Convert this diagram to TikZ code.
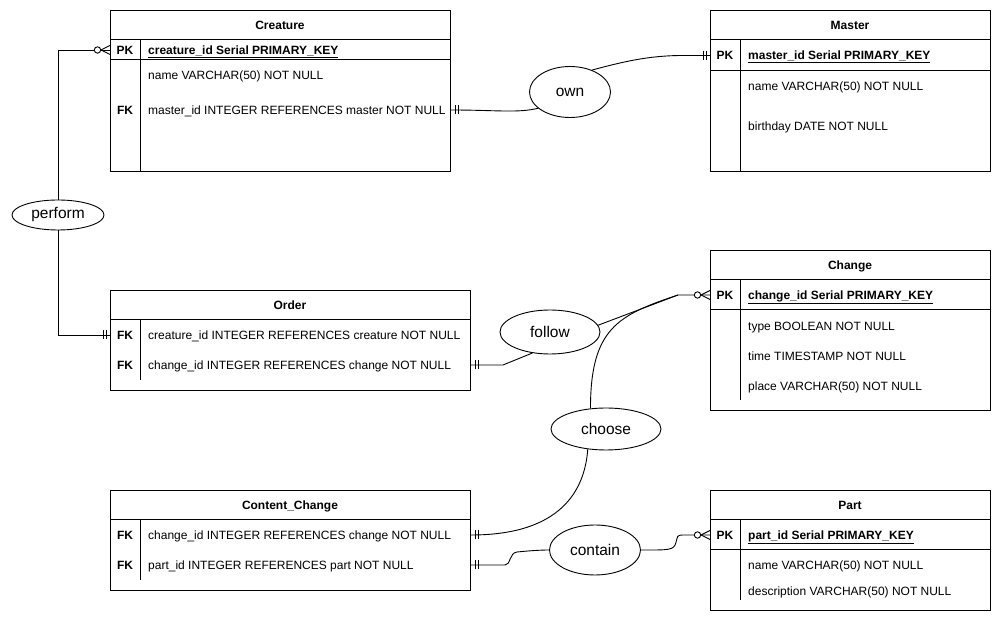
\documentclass[tikz,border=0pt]{standalone}
\usepackage{fontspec}
\setmainfont{Liberation Sans}
\usetikzlibrary{shapes.geometric, calc}

\begin{document}
\begin{tikzpicture}[x = 1pt, y = 1pt]
\tikzstyle{TableStyle}=[draw, line width = 1pt,
                        anchor = north west,
                        inner sep = 0pt]
\tikzstyle{TitleStyle}=[font = \fontsize{12}{14}\selectfont\bfseries,
                        text height = 8.6pt, text depth = 0pt, inner sep = 0pt]
\tikzstyle{KeyStyle}=[TitleStyle]
\tikzstyle{RowStyle}=[font = \fontsize{12}{14}\selectfont,
                      text height = 8.6pt, text depth = 0pt,
                      inner sep = 0pt, anchor = west]
\tikzstyle{PkStyle}=[RowStyle, font = \fontsize{12}{14}\selectfont\bfseries]
\tikzstyle{RelStyle}=[shape = ellipse, draw, line width = 0.9pt,
                      inner sep = 0pt, font = \fontsize{15.5}{18}\selectfont]
\tikzstyle{LinkStyle}=[line width = 0.9pt]
\tikzstyle{RuleStyle}=[line width = 1pt]
\tikzset{mone/.pic = {\draw[LinkStyle] (4,-4.5) -- (4,4.5) (7,-4.5) -- (7,4.5);},
         zmany/.pic = {\draw[LinkStyle] (0,-4.5) -- (9,0) -- (0,4.5);
                       \draw[LinkStyle, fill = white] (12.5,0) circle (3.2);}}

\useasboundingbox (0,0) rectangle (1002,621);

% Creature
\node[TableStyle, minimum width = 340pt, minimum height = 161pt] (creature) at (110,611) {};
\node[TitleStyle] (cr-title) at (280,596) {Creature};
\draw[RuleStyle] (110,581) -- (450,581) (110,561) -- (450,561) (140,581) -- (140,450);
\node[KeyStyle] (cr-pk-key) at (125,571) {PK};
\node[PkStyle] (cr-pk) at (148,571) {\underline{creature\_id Serial PRIMARY\_KEY}};
\node[RowStyle] (cr-name) at (148,546) {name VARCHAR(50) NOT NULL};
\node[KeyStyle] (cr-fk-key) at (125,511) {FK};
\node[RowStyle] (cr-fk) at (148,511) {master\_id INTEGER REFERENCES master NOT NULL};

% Master
\node[TableStyle, minimum width = 280pt, minimum height = 161pt] (master) at (710,611) {};
\node[TitleStyle] (ma-title) at (850,596) {Master};
\draw[RuleStyle] (710,581) -- (990,581) (710,550) -- (990,550) (740,581) -- (740,450);
\node[KeyStyle] (ma-pk-key) at (725,565.5) {PK};
\node[PkStyle] (ma-pk) at (748,565.5) {\underline{master\_id Serial PRIMARY\_KEY}};
\node[RowStyle] (ma-name) at (748,535) {name VARCHAR(50) NOT NULL};
\node[RowStyle] (ma-birthday) at (748,495) {birthday DATE NOT NULL};

% Change
\node[TableStyle, minimum width = 280pt, minimum height = 160pt] (change) at (710,371) {};
\node[TitleStyle] (ch-title) at (850,356) {Change};
\draw[RuleStyle] (710,341) -- (990,341) (710,311) -- (990,311) (740,341) -- (740,221);
\node[KeyStyle] (ch-pk-key) at (725,326) {PK};
\node[PkStyle] (ch-pk) at (748,326) {\underline{change\_id Serial PRIMARY\_KEY}};
\node[RowStyle] (ch-type) at (748,295) {type BOOLEAN NOT NULL};
\node[RowStyle] (ch-time) at (748,265) {time TIMESTAMP NOT NULL};
\node[RowStyle] (ch-place) at (748,235) {place VARCHAR(50) NOT NULL};

% Order
\node[TableStyle, minimum width = 360pt, minimum height = 100pt] (order) at (110,331) {};
\node[TitleStyle] (or-title) at (290,316) {Order};
\draw[RuleStyle] (110,301) -- (470,301) (140,301) -- (140,241);
\node[KeyStyle] (or-fk1-key) at (125,286) {FK};
\node[RowStyle] (or-fk1) at (148,286) {creature\_id INTEGER REFERENCES creature NOT NULL};
\node[KeyStyle] (or-fk2-key) at (125,256) {FK};
\node[RowStyle] (or-fk2) at (148,256) {change\_id INTEGER REFERENCES change NOT NULL};

% Content_Change
\node[TableStyle, minimum width = 360pt, minimum height = 100pt] (cc) at (110,131) {};
\node[TitleStyle] (cc-title) at (290,116) {Content\_Change};
\draw[RuleStyle] (110,101) -- (470,101) (140,101) -- (140,41);
\node[KeyStyle] (cc-fk1-key) at (125,86) {FK};
\node[RowStyle] (cc-fk1) at (148,86) {change\_id INTEGER REFERENCES change NOT NULL};
\node[KeyStyle] (cc-fk2-key) at (125,56) {FK};
\node[RowStyle] (cc-fk2) at (148,56) {part\_id INTEGER REFERENCES part NOT NULL};

% Part
\node[TableStyle, minimum width = 280pt, minimum height = 120pt] (part) at (710,131) {};
\node[TitleStyle] (pa-title) at (850,116) {Part};
\draw[RuleStyle] (710,101) -- (990,101) (710,71) -- (990,71) (740,101) -- (740,21);
\node[KeyStyle] (pa-pk-key) at (725,86) {PK};
\node[PkStyle] (pa-pk) at (748,86) {\underline{part\_id Serial PRIMARY\_KEY}};
\node[RowStyle] (pa-name) at (748,56) {name VARCHAR(50) NOT NULL};
\node[RowStyle] (pa-desc) at (748,30) {description VARCHAR(50) NOT NULL};

% relationships
\node[RelStyle, minimum width = 92pt, minimum height = 30pt] (perform) at (58,406) {perform};
\node[RelStyle, minimum width = 81pt, minimum height = 51pt] (own) at (570,529) {own};
\node[RelStyle, minimum width = 100pt, minimum height = 44pt] (follow) at (550,289) {follow};
\node[RelStyle, minimum width = 110pt, minimum height = 42pt] (choose) at (606,192) {choose};
\node[RelStyle, minimum width = 91pt, minimum height = 50pt] (contain) at (595,71) {contain};

% links
\draw[LinkStyle] (perform) |- (creature.west |- cr-pk);
\draw[LinkStyle] (perform) |- (order.west |- or-fk1);
\draw[LinkStyle] (creature.east |- cr-fk) .. controls +(45,0) and +(-20,-5) .. (own.207);
\draw[LinkStyle] (master.west |- ma-pk) -- ++(-27,0) .. controls +(-35,0) and +(30,8) .. (own.45);
\draw[LinkStyle] (order.east |- or-fk2) -- ++(32,0) -- (follow.230);
\coordinate (ch-join) at ($(change.west |- ch-pk) + (-32,0)$);
\draw[LinkStyle] (change.west |- ch-pk) -- (ch-join) -- (follow.8);
\draw[LinkStyle] (choose.127) .. controls +(0,80) and +(-60,-20) .. (ch-join);
\draw[LinkStyle] (cc.east |- cc-fk1) .. controls +(90,0) and +(-3,-41) .. (choose.228);
\draw[LinkStyle] (cc.east |- cc-fk2) -- ++(34,0) .. controls +(6,0) and +(-8,-1) .. ++(12,13)
                 .. controls +(10,1) and +(-10,0) .. (contain.west);
\draw[LinkStyle] (contain.east) .. controls +(28,0) and +(-2,-8) .. ++(35,7.5)
                 .. controls +(2,6) and +(-8,0) .. ++(8,7.5) -- (part.west |- pa-pk);

% cardinality marks
\pic[rotate = 180] at (creature.west |- cr-pk) {zmany};
\pic[rotate = 180] at (order.west |- or-fk1) {mone};
\pic at (creature.east |- cr-fk) {mone};
\pic[rotate = 180] at (master.west |- ma-pk) {mone};
\pic at (order.east |- or-fk2) {mone};
\pic[rotate = 180] at (change.west |- ch-pk) {zmany};
\pic at (cc.east |- cc-fk1) {mone};
\pic at (cc.east |- cc-fk2) {mone};
\pic[rotate = 180] at (part.west |- pa-pk) {zmany};
\end{tikzpicture}
\end{document}
